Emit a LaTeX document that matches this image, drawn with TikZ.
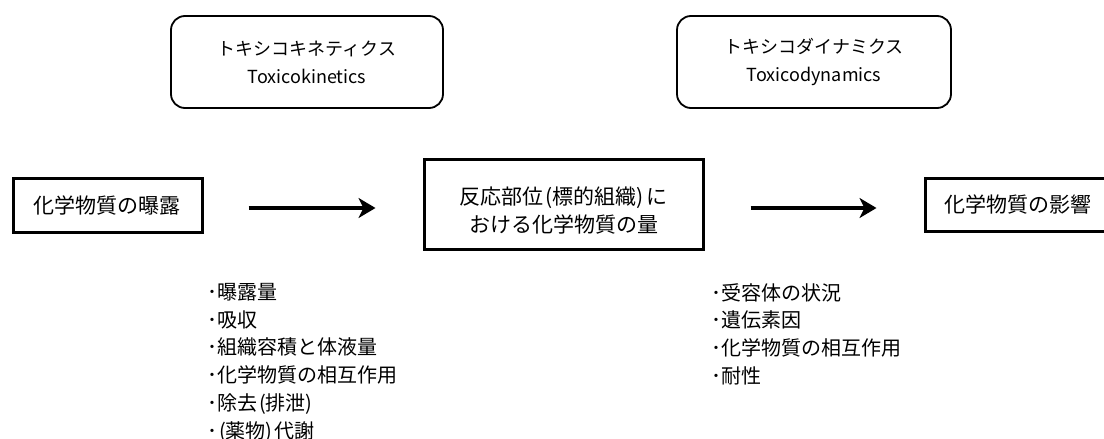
\documentclass[tikz,border=0pt]{standalone}
\usepackage{fontspec}
\setmainfont{Noto Sans CJK JP}
\usetikzlibrary{arrows.meta}
\newcommand{\lp}{\hspace{2pt}(}
\newcommand{\rp}{)\hspace{2pt}}
\tikzset{
  mainbox/.style={draw, line width=3pt, inner sep=0pt, font=\fontsize{21}{25}\selectfont},
  sidebox/.style={draw, line width=1.8pt, rounded corners=14pt, minimum height=92pt,
    align=center, font=\fontsize{18}{28}\selectfont},
  sitetext/.style={align=center, inner sep=0pt, font=\fontsize{21}{28}\selectfont},
  flow/.style={-{Stealth[length=17pt,width=20pt,inset=5pt]}, line width=4pt},
  itemlist/.style={anchor=north west, inner sep=0pt, align=left, font=\fontsize{20}{27.8}\selectfont}
}
\begin{document}
    \begin{tikzpicture}[x=1pt,y=-1pt]
      \useasboundingbox (0,0) rectangle (1104,439);
      \node[sidebox, minimum width=272pt] (tk) at (307,62) {トキシコキネティクス\\Toxicokinetics};
      \node[sidebox, minimum width=274pt] (td) at (814,62) {トキシコダイナミクス\\Toxicodynamics};
      \node[mainbox, minimum width=189pt, minimum height=54pt] (expo) at (107.5,205) {化学物質の曝露};
      \node[mainbox, minimum width=279pt, minimum height=90pt,
        label={[sitetext, yshift=-7pt]center:{反応部位\lp 標的組織\rp に\\おける化学物質の量}}] (site) at (563.5,204) {};
      \node[mainbox, minimum width=186pt, minimum height=53pt] (effect) at (1018,204.5) {化学物質の影響};
      \begin{scope}[flow]
        \draw[shorten <=45pt, shorten >=47pt] ([yshift=-3pt]expo.east) -- ([yshift=-3pt]expo.east -| site.west);
        \draw[shorten <=46pt, shorten >=47pt] ([yshift=-4pt]site.east) -- ([yshift=-4pt]site.east -| effect.west);
      \end{scope}
      \node[itemlist] (tklist) at (207,283) {･曝露量\\･吸収\\･組織容積と体液量\\･化学物質の相互作用\\･除去\lp 排泄\rp\\･\lp 薬物\rp 代謝};
      \node[itemlist] (tdlist) at (711,283) {･受容体の状況\\･遺伝素因\\･化学物質の相互作用\\･耐性};
    \end{tikzpicture}
\end{document}
